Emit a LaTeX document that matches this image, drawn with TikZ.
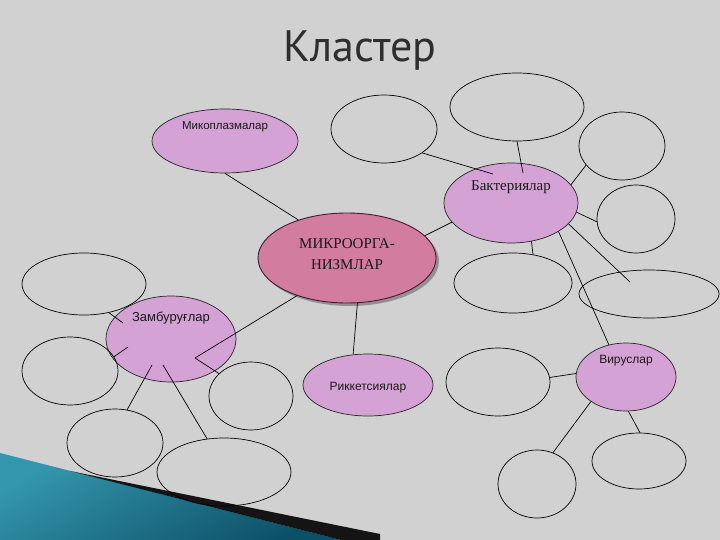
\documentclass[tikz,border=0pt]{standalone}
\usepackage{fontspec}
\setmainfont{Liberation Serif}
\newfontfamily\arialf{Liberation Sans}
\newfontfamily\titlef{PT Sans}
\usetikzlibrary{shapes.geometric,shadows,calc}
\definecolor{bg}{HTML}{D1D1D1}
\definecolor{lilac}{HTML}{D4A2D4}
\definecolor{rose}{HTML}{D27C9E}
\definecolor{roseline}{HTML}{4A1832}
\definecolor{titlec}{HTML}{2E2E2E}
\definecolor{tealA}{HTML}{3396AC}
\definecolor{tealB}{HTML}{0C5068}
\begin{document}
\begin{tikzpicture}[x=1pt,y=-1pt,
  blank/.style={ellipse, draw=black, line width=0.7pt, inner sep=0pt},
  sub/.style={ellipse, draw=black!85, line width=0.7pt, fill=lilac, inner sep=0pt},
  conn/.style={draw=black, line width=0.7pt},
  sanslbl/.style={font=\arialf\fontsize{12}{14}\selectfont, text=black!90},
  seriflbl/.style={font=\fontsize{15}{18}\selectfont, text=black!90}]
\fill[bg] (0,0) rectangle (720,540);
\useasboundingbox (0,0) rectangle (720,540);
% decorative band
\shade[top color=tealA, bottom color=tealB, shading angle=30] (0,453) -- (345,541) -- (0,541) -- cycle;
\fill[black, opacity=0.9] (70,471) -- (380,534) -- (380,541) -- (345,541) -- cycle;
% title
\node[font=\titlef\fontsize{44}{52}\selectfont, text=titlec] (title) at (360,51) {Кластер};
% main
\node[ellipse, draw=roseline, line width=0.9pt, fill=rose, inner sep=0pt,
      minimum width=178, minimum height=90,
      drop shadow={shadow xshift=3pt, shadow yshift=-3pt, fill=black, opacity=0.3},
      label={[seriflbl, align=center, yshift=4]center:МИКРООРГА-\\[3pt]НИЗМЛАР}] (main) at (347,258) {};
% sub nodes
\node[sub, minimum width=146, minimum height=64, label={[sanslbl, font=\arialf\fontsize{11.5}{14}\selectfont, yshift=14]center:Микоплазмалар}] (myco) at (225,141) {};
\node[sub, minimum width=134, minimum height=80, label={[seriflbl, yshift=16]center:Бактериялар}] (bak) at (511,203) {};
\node[sub, minimum width=130, minimum height=86, label={[sanslbl, font=\arialf\fontsize{13}{15}\selectfont, yshift=21]center:Замбуруғлар}] (zamb) at (171,339) {};
\node[sub, minimum width=130, minimum height=62, label={[sanslbl, yshift=-3]center:Риккетсиялар}] (rick) at (368,385) {};
\node[sub, minimum width=100, minimum height=68, label={[sanslbl, yshift=16]center:Вируслар}] (vir) at (626,377) {};
% empty ellipses: bacteria
\node[blank, minimum width=106, minimum height=68] (e1) at (384,129) {};
\node[blank, minimum width=134, minimum height=68] (e2) at (517,107) {};
\node[blank, minimum width=86, minimum height=68] (e3) at (622,146) {};
\node[blank, minimum width=78, minimum height=68] (e4) at (636,219) {};
\node[blank, minimum width=118, minimum height=60] (e5) at (513,283) {};
\node[blank, minimum width=140, minimum height=48] (e6) at (649,294) {};
% empty ellipses: viruses
\node[blank, minimum width=104, minimum height=68] (v1) at (498,382) {};
\node[blank, minimum width=78, minimum height=68] (v2) at (537,484) {};
\node[blank, minimum width=94, minimum height=56] (v3) at (639,461) {};
% empty ellipses: fungi
\node[blank, minimum width=124, minimum height=62] (z1) at (84,284) {};
\node[blank, minimum width=96, minimum height=68] (z2) at (70,371) {};
\node[blank, minimum width=84, minimum height=68] (z3) at (251,396) {};
\node[blank, minimum width=96, minimum height=68] (z4) at (115,443) {};
\node[blank, minimum width=134, minimum height=68] (z5) at (224,472) {};
% free ends inside ellipses
\coordinate (b1) at ($(bak)+(-18,-29)$);
\coordinate (b2) at ($(bak)+(12,-30)$);
\coordinate (e6i) at ($(e6)+(-19,-12)$);
\coordinate (zi1) at ($(zamb)+(-48,-16)$);
\coordinate (zi2) at ($(zamb)+(-43,8)$);
\coordinate (zi3) at ($(zamb)+(-19,26)$);
\coordinate (zi4) at ($(zamb)+(-8,26)$);
\coordinate (zv) at ($(zamb)+(24,19)$);
% connectors
\draw[conn] (myco.south) -- (main.142);
\draw[conn] (main.16) -- (bak.198);
\draw[conn] (main.-77) -- (rick.116);
\draw[conn] (main.217) -- (zv);
\draw[conn] (e1.-32) -- (b1);
\draw[conn] (e2.south) -- (b2);
\draw[conn] (e3.208) -- (bak.17);
\draw[conn] (bak.-8) -- (e4.184);
\draw[conn] (bak.-62) -- (e5.55);
\draw[conn] (bak.-20) -- (e6i);
\draw[conn] (bak.-31) -- (vir.118);
\draw[conn] (v1.5) -- (vir.176);
\draw[conn] (v2.63) -- (vir.215);
\draw[conn] (vir.-86) -- (v3.88);
\draw[conn] (z1.-49) -- (zi1);
\draw[conn] (z2.18) -- (zi2);
\draw[conn] (z4.70) -- (zi3);
\draw[conn] (z5.117) -- (zi4);
\draw[conn] (z3.145) -- (zv);
\end{tikzpicture}
\end{document}
